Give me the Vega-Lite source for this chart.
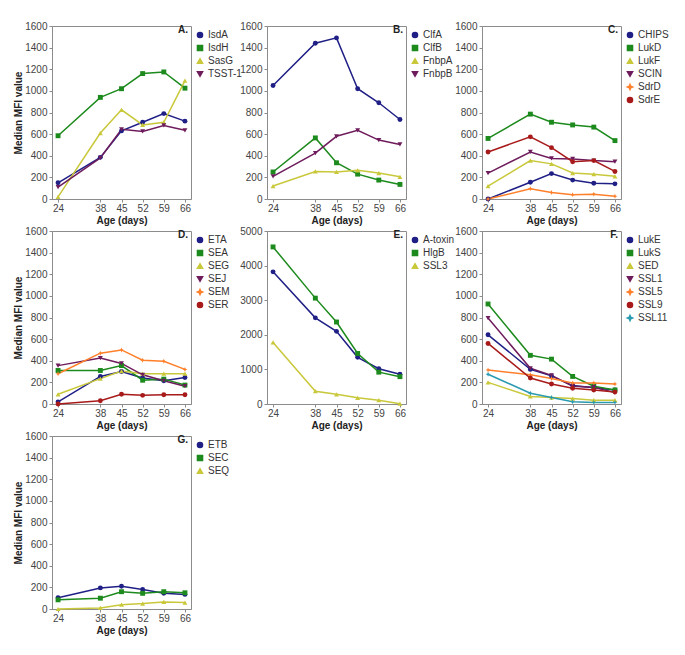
{
  "$schema": "https://vega.github.io/schema/vega-lite/v6.json",
  "padding": {"left": 13, "top": 20, "right": 0, "bottom": 0},
  "background": "white",
  "config": {
    "font": "Liberation Sans",
    "view": {"stroke": "#8c8c8c", "strokeWidth": 1},
    "axis": {"grid": false, "domainColor": "#8c8c8c", "tickColor": "#8c8c8c", "tickSize": 3, "labelFontSize": 10, "labelColor": "#444", "titleFontSize": 10, "titleFontWeight": "bold", "titleColor": "#222", "labelFont": "Liberation Sans", "titleFont": "Liberation Sans", "format": "d"},
    "axisX": {"titlePadding": 2, "labelPadding": 1},
    "axisY": {"titlePadding": 1, "labelPadding": 2},
    "legend": {"orient": "right", "offset": 0, "labelFontSize": 10, "labelColor": "#333", "symbolSize": 26, "rowPadding": 1, "title": null, "padding": 4, "labelFont": "Liberation Sans", "labelOffset": 3},
    "title": {"font": "Liberation Sans", "fontSize": 10, "fontWeight": "bold", "color": "#222", "anchor": "end", "frame": "group", "offset": -14, "dx": -3}
  },
  "datasets": {
    "A": [
      {"series":"IsdA","age":24,"mfi":150},{"series":"IsdA","age":38,"mfi":385},{"series":"IsdA","age":45,"mfi":630},{"series":"IsdA","age":52,"mfi":710},{"series":"IsdA","age":59,"mfi":790},{"series":"IsdA","age":66,"mfi":720},
      {"series":"IsdH","age":24,"mfi":585},{"series":"IsdH","age":38,"mfi":940},{"series":"IsdH","age":45,"mfi":1020},{"series":"IsdH","age":52,"mfi":1160},{"series":"IsdH","age":59,"mfi":1175},{"series":"IsdH","age":66,"mfi":1025},
      {"series":"SasG","age":24,"mfi":20},{"series":"SasG","age":38,"mfi":610},{"series":"SasG","age":45,"mfi":825},{"series":"SasG","age":52,"mfi":685},{"series":"SasG","age":59,"mfi":710},{"series":"SasG","age":66,"mfi":1095},
      {"series":"TSST-1","age":24,"mfi":110},{"series":"TSST-1","age":38,"mfi":380},{"series":"TSST-1","age":45,"mfi":645},{"series":"TSST-1","age":52,"mfi":625},{"series":"TSST-1","age":59,"mfi":680},{"series":"TSST-1","age":66,"mfi":635}
    ],
    "B": [
      {"series":"ClfA","age":24,"mfi":1050},{"series":"ClfA","age":38,"mfi":1440},{"series":"ClfA","age":45,"mfi":1490},{"series":"ClfA","age":52,"mfi":1020},{"series":"ClfA","age":59,"mfi":890},{"series":"ClfA","age":66,"mfi":735},
      {"series":"ClfB","age":24,"mfi":250},{"series":"ClfB","age":38,"mfi":565},{"series":"ClfB","age":45,"mfi":335},{"series":"ClfB","age":52,"mfi":230},{"series":"ClfB","age":59,"mfi":175},{"series":"ClfB","age":66,"mfi":135},
      {"series":"FnbpA","age":24,"mfi":120},{"series":"FnbpA","age":38,"mfi":255},{"series":"FnbpA","age":45,"mfi":250},{"series":"FnbpA","age":52,"mfi":265},{"series":"FnbpA","age":59,"mfi":240},{"series":"FnbpA","age":66,"mfi":205},
      {"series":"FnbpB","age":24,"mfi":210},{"series":"FnbpB","age":38,"mfi":425},{"series":"FnbpB","age":45,"mfi":580},{"series":"FnbpB","age":52,"mfi":635},{"series":"FnbpB","age":59,"mfi":545},{"series":"FnbpB","age":66,"mfi":505}
    ],
    "C": [
      {"series":"CHIPS","age":24,"mfi":0},{"series":"CHIPS","age":38,"mfi":155},{"series":"CHIPS","age":45,"mfi":235},{"series":"CHIPS","age":52,"mfi":175},{"series":"CHIPS","age":59,"mfi":145},{"series":"CHIPS","age":66,"mfi":140},
      {"series":"LukD","age":24,"mfi":560},{"series":"LukD","age":38,"mfi":785},{"series":"LukD","age":45,"mfi":710},{"series":"LukD","age":52,"mfi":685},{"series":"LukD","age":59,"mfi":665},{"series":"LukD","age":66,"mfi":540},
      {"series":"LukF","age":24,"mfi":120},{"series":"LukF","age":38,"mfi":355},{"series":"LukF","age":45,"mfi":325},{"series":"LukF","age":52,"mfi":240},{"series":"LukF","age":59,"mfi":230},{"series":"LukF","age":66,"mfi":210},
      {"series":"SCIN","age":24,"mfi":240},{"series":"SCIN","age":38,"mfi":435},{"series":"SCIN","age":45,"mfi":375},{"series":"SCIN","age":52,"mfi":370},{"series":"SCIN","age":59,"mfi":355},{"series":"SCIN","age":66,"mfi":345},
      {"series":"SdrD","age":24,"mfi":0},{"series":"SdrD","age":38,"mfi":95},{"series":"SdrD","age":45,"mfi":60},{"series":"SdrD","age":52,"mfi":40},{"series":"SdrD","age":59,"mfi":45},{"series":"SdrD","age":66,"mfi":25},
      {"series":"SdrE","age":24,"mfi":435},{"series":"SdrE","age":38,"mfi":575},{"series":"SdrE","age":45,"mfi":475},{"series":"SdrE","age":52,"mfi":345},{"series":"SdrE","age":59,"mfi":355},{"series":"SdrE","age":66,"mfi":255}
    ],
    "D": [
      {"series":"ETA","age":24,"mfi":20},{"series":"ETA","age":38,"mfi":255},{"series":"ETA","age":45,"mfi":300},{"series":"ETA","age":52,"mfi":240},{"series":"ETA","age":59,"mfi":215},{"series":"ETA","age":66,"mfi":245},
      {"series":"SEA","age":24,"mfi":310},{"series":"SEA","age":38,"mfi":310},{"series":"SEA","age":45,"mfi":355},{"series":"SEA","age":52,"mfi":220},{"series":"SEA","age":59,"mfi":230},{"series":"SEA","age":66,"mfi":175},
      {"series":"SEG","age":24,"mfi":90},{"series":"SEG","age":38,"mfi":235},{"series":"SEG","age":45,"mfi":305},{"series":"SEG","age":52,"mfi":280},{"series":"SEG","age":59,"mfi":280},{"series":"SEG","age":66,"mfi":280},
      {"series":"SEJ","age":24,"mfi":355},{"series":"SEJ","age":38,"mfi":425},{"series":"SEJ","age":45,"mfi":375},{"series":"SEJ","age":52,"mfi":270},{"series":"SEJ","age":59,"mfi":215},{"series":"SEJ","age":66,"mfi":165},
      {"series":"SEM","age":24,"mfi":280},{"series":"SEM","age":38,"mfi":470},{"series":"SEM","age":45,"mfi":500},{"series":"SEM","age":52,"mfi":405},{"series":"SEM","age":59,"mfi":395},{"series":"SEM","age":66,"mfi":320},
      {"series":"SER","age":24,"mfi":0},{"series":"SER","age":38,"mfi":30},{"series":"SER","age":45,"mfi":90},{"series":"SER","age":52,"mfi":80},{"series":"SER","age":59,"mfi":85},{"series":"SER","age":66,"mfi":85}
    ],
    "E": [
      {"series":"A-toxin","age":24,"mfi":3820},{"series":"A-toxin","age":38,"mfi":2490},{"series":"A-toxin","age":45,"mfi":2100},{"series":"A-toxin","age":52,"mfi":1350},{"series":"A-toxin","age":59,"mfi":1020},{"series":"A-toxin","age":66,"mfi":860},
      {"series":"HlgB","age":24,"mfi":4540},{"series":"HlgB","age":38,"mfi":3060},{"series":"HlgB","age":45,"mfi":2370},{"series":"HlgB","age":52,"mfi":1460},{"series":"HlgB","age":59,"mfi":920},{"series":"HlgB","age":66,"mfi":790},
      {"series":"SSL3","age":24,"mfi":1780},{"series":"SSL3","age":38,"mfi":370},{"series":"SSL3","age":45,"mfi":280},{"series":"SSL3","age":52,"mfi":180},{"series":"SSL3","age":59,"mfi":110},{"series":"SSL3","age":66,"mfi":10}
    ],
    "F": [
      {"series":"LukE","age":24,"mfi":640},{"series":"LukE","age":38,"mfi":320},{"series":"LukE","age":45,"mfi":260},{"series":"LukE","age":52,"mfi":170},{"series":"LukE","age":59,"mfi":150},{"series":"LukE","age":66,"mfi":130},
      {"series":"LukS","age":24,"mfi":925},{"series":"LukS","age":38,"mfi":450},{"series":"LukS","age":45,"mfi":415},{"series":"LukS","age":52,"mfi":255},{"series":"LukS","age":59,"mfi":165},{"series":"LukS","age":66,"mfi":130},
      {"series":"SED","age":24,"mfi":200},{"series":"SED","age":38,"mfi":70},{"series":"SED","age":45,"mfi":60},{"series":"SED","age":52,"mfi":50},{"series":"SED","age":59,"mfi":35},{"series":"SED","age":66,"mfi":35},
      {"series":"SSL1","age":24,"mfi":795},{"series":"SSL1","age":38,"mfi":330},{"series":"SSL1","age":45,"mfi":265},{"series":"SSL1","age":52,"mfi":165},{"series":"SSL1","age":59,"mfi":155},{"series":"SSL1","age":66,"mfi":105},
      {"series":"SSL5","age":24,"mfi":315},{"series":"SSL5","age":38,"mfi":270},{"series":"SSL5","age":45,"mfi":235},{"series":"SSL5","age":52,"mfi":195},{"series":"SSL5","age":59,"mfi":195},{"series":"SSL5","age":66,"mfi":185},
      {"series":"SSL9","age":24,"mfi":560},{"series":"SSL9","age":38,"mfi":240},{"series":"SSL9","age":45,"mfi":185},{"series":"SSL9","age":52,"mfi":145},{"series":"SSL9","age":59,"mfi":130},{"series":"SSL9","age":66,"mfi":110},
      {"series":"SSL11","age":24,"mfi":275},{"series":"SSL11","age":38,"mfi":100},{"series":"SSL11","age":45,"mfi":60},{"series":"SSL11","age":52,"mfi":20},{"series":"SSL11","age":59,"mfi":15},{"series":"SSL11","age":66,"mfi":15}
    ],
    "G": [
      {"series":"ETB","age":24,"mfi":105},{"series":"ETB","age":38,"mfi":195},{"series":"ETB","age":45,"mfi":210},{"series":"ETB","age":52,"mfi":180},{"series":"ETB","age":59,"mfi":145},{"series":"ETB","age":66,"mfi":135},
      {"series":"SEC","age":24,"mfi":85},{"series":"SEC","age":38,"mfi":100},{"series":"SEC","age":45,"mfi":160},{"series":"SEC","age":52,"mfi":145},{"series":"SEC","age":59,"mfi":160},{"series":"SEC","age":66,"mfi":150},
      {"series":"SEQ","age":24,"mfi":0},{"series":"SEQ","age":38,"mfi":10},{"series":"SEQ","age":45,"mfi":40},{"series":"SEQ","age":52,"mfi":50},{"series":"SEQ","age":59,"mfi":65},{"series":"SEQ","age":66,"mfi":60}
    ]
  },
  "columns": 3,
  "bounds": "flush",
  "spacing": {"row": 32, "column": 76},
  "resolve": {"scale": {"color": "independent", "shape": "independent", "x": "independent", "y": "independent"}, "legend": {"color": "independent", "shape": "independent"}},
  "concat": [
    {
      "data": {"name": "A"}, "title": "A.", "width": 139, "height": 173,
      "encoding": {
        "x": {"field": "age", "type": "quantitative", "scale": {"domain": [22, 68], "nice": false, "zero": false}, "axis": {"values": [24, 38, 45, 52, 59, 66], "title": "Age (days)"}},
        "y": {"field": "mfi", "type": "quantitative", "scale": {"domain": [0, 1600], "nice": false}, "axis": {"values": [0, 200, 400, 600, 800, 1000, 1200, 1400, 1600], "title": "Median MFI value"}},
        "color": {"field": "series", "type": "nominal", "scale": {"domain": ["IsdA", "IsdH", "SasG", "TSST-1"], "range": ["#1f1f86", "#1c8a1c", "#c9c83a", "#6e1c5c"]}}
      },
      "layer": [
        {"mark": {"type": "line", "strokeWidth": 1.5}},
        {"mark": {"type": "point", "filled": true, "size": 24, "opacity": 1}, "encoding": {"shape": {"field": "series", "type": "nominal", "scale": {"domain": ["IsdA", "IsdH", "SasG", "TSST-1"], "range": ["circle", "square", "triangle-up", "triangle-down"]}}}}
      ]
    },
    {
      "data": {"name": "B"}, "title": "B.", "width": 139, "height": 173,
      "encoding": {
        "x": {"field": "age", "type": "quantitative", "scale": {"domain": [22, 68], "nice": false, "zero": false}, "axis": {"values": [24, 38, 45, 52, 59, 66], "title": "Age (days)"}},
        "y": {"field": "mfi", "type": "quantitative", "scale": {"domain": [0, 1600], "nice": false}, "axis": {"values": [0, 200, 400, 600, 800, 1000, 1200, 1400, 1600], "title": null}},
        "color": {"field": "series", "type": "nominal", "scale": {"domain": ["ClfA", "ClfB", "FnbpA", "FnbpB"], "range": ["#1f1f86", "#1c8a1c", "#c9c83a", "#6e1c5c"]}}
      },
      "layer": [
        {"mark": {"type": "line", "strokeWidth": 1.5}},
        {"mark": {"type": "point", "filled": true, "size": 24, "opacity": 1}, "encoding": {"shape": {"field": "series", "type": "nominal", "scale": {"domain": ["ClfA", "ClfB", "FnbpA", "FnbpB"], "range": ["circle", "square", "triangle-up", "triangle-down"]}}}}
      ]
    },
    {
      "data": {"name": "C"}, "title": "C.", "width": 139, "height": 173,
      "encoding": {
        "x": {"field": "age", "type": "quantitative", "scale": {"domain": [22, 68], "nice": false, "zero": false}, "axis": {"values": [24, 38, 45, 52, 59, 66], "title": "Age (days)"}},
        "y": {"field": "mfi", "type": "quantitative", "scale": {"domain": [0, 1600], "nice": false}, "axis": {"values": [0, 200, 400, 600, 800, 1000, 1200, 1400, 1600], "title": null}},
        "color": {"field": "series", "type": "nominal", "scale": {"domain": ["CHIPS", "LukD", "LukF", "SCIN", "SdrD", "SdrE"], "range": ["#1f1f86", "#1c8a1c", "#c9c83a", "#6e1c5c", "#ff7f2a", "#a81a1a"]}}
      },
      "layer": [
        {"mark": {"type": "line", "strokeWidth": 1.5}},
        {"mark": {"type": "point", "filled": true, "size": 24, "opacity": 1}, "encoding": {"shape": {"field": "series", "type": "nominal", "scale": {"domain": ["CHIPS", "LukD", "LukF", "SCIN", "SdrD", "SdrE"], "range": ["circle", "square", "triangle-up", "triangle-down", "M0,-1L0.3,-0.3L1,0L0.3,0.3L0,1L-0.3,0.3L-1,0L-0.3,-0.3Z", "circle"]}}}}
      ]
    },
    {
      "data": {"name": "D"}, "title": "D.", "width": 139, "height": 173,
      "encoding": {
        "x": {"field": "age", "type": "quantitative", "scale": {"domain": [22, 68], "nice": false, "zero": false}, "axis": {"values": [24, 38, 45, 52, 59, 66], "title": "Age (days)"}},
        "y": {"field": "mfi", "type": "quantitative", "scale": {"domain": [0, 1600], "nice": false}, "axis": {"values": [0, 200, 400, 600, 800, 1000, 1200, 1400, 1600], "title": "Median MFI value"}},
        "color": {"field": "series", "type": "nominal", "scale": {"domain": ["ETA", "SEA", "SEG", "SEJ", "SEM", "SER"], "range": ["#1f1f86", "#1c8a1c", "#c9c83a", "#6e1c5c", "#ff7f2a", "#a81a1a"]}}
      },
      "layer": [
        {"mark": {"type": "line", "strokeWidth": 1.5}},
        {"mark": {"type": "point", "filled": true, "size": 24, "opacity": 1}, "encoding": {"shape": {"field": "series", "type": "nominal", "scale": {"domain": ["ETA", "SEA", "SEG", "SEJ", "SEM", "SER"], "range": ["circle", "square", "triangle-up", "triangle-down", "M0,-1L0.3,-0.3L1,0L0.3,0.3L0,1L-0.3,0.3L-1,0L-0.3,-0.3Z", "circle"]}}}}
      ]
    },
    {
      "data": {"name": "E"}, "title": "E.", "width": 139, "height": 173,
      "encoding": {
        "x": {"field": "age", "type": "quantitative", "scale": {"domain": [22, 68], "nice": false, "zero": false}, "axis": {"values": [24, 38, 45, 52, 59, 66], "title": "Age (days)"}},
        "y": {"field": "mfi", "type": "quantitative", "scale": {"domain": [0, 5000], "nice": false}, "axis": {"values": [0, 1000, 2000, 3000, 4000, 5000], "title": null}},
        "color": {"field": "series", "type": "nominal", "scale": {"domain": ["A-toxin", "HlgB", "SSL3"], "range": ["#1f1f86", "#1c8a1c", "#c9c83a"]}}
      },
      "layer": [
        {"mark": {"type": "line", "strokeWidth": 1.5}},
        {"mark": {"type": "point", "filled": true, "size": 24, "opacity": 1}, "encoding": {"shape": {"field": "series", "type": "nominal", "scale": {"domain": ["A-toxin", "HlgB", "SSL3"], "range": ["circle", "square", "triangle-up"]}}}}
      ]
    },
    {
      "data": {"name": "F"}, "title": "F.", "width": 139, "height": 173,
      "encoding": {
        "x": {"field": "age", "type": "quantitative", "scale": {"domain": [22, 68], "nice": false, "zero": false}, "axis": {"values": [24, 38, 45, 52, 59, 66], "title": "Age (days)"}},
        "y": {"field": "mfi", "type": "quantitative", "scale": {"domain": [0, 1600], "nice": false}, "axis": {"values": [0, 200, 400, 600, 800, 1000, 1200, 1400, 1600], "title": null}},
        "color": {"field": "series", "type": "nominal", "scale": {"domain": ["LukE", "LukS", "SED", "SSL1", "SSL5", "SSL9", "SSL11"], "range": ["#1f1f86", "#1c8a1c", "#c9c83a", "#6e1c5c", "#ff7f2a", "#a81a1a", "#2a9ab0"]}}
      },
      "layer": [
        {"mark": {"type": "line", "strokeWidth": 1.5}},
        {"mark": {"type": "point", "filled": true, "size": 24, "opacity": 1}, "encoding": {"shape": {"field": "series", "type": "nominal", "scale": {"domain": ["LukE", "LukS", "SED", "SSL1", "SSL5", "SSL9", "SSL11"], "range": ["circle", "square", "triangle-up", "triangle-down", "M0,-1L0.3,-0.3L1,0L0.3,0.3L0,1L-0.3,0.3L-1,0L-0.3,-0.3Z", "circle", "M0,-1L0.3,-0.3L1,0L0.3,0.3L0,1L-0.3,0.3L-1,0L-0.3,-0.3Z"]}}}}
      ]
    },
    {
      "data": {"name": "G"}, "title": "G.", "width": 139, "height": 173,
      "encoding": {
        "x": {"field": "age", "type": "quantitative", "scale": {"domain": [22, 68], "nice": false, "zero": false}, "axis": {"values": [24, 38, 45, 52, 59, 66], "title": "Age (days)"}},
        "y": {"field": "mfi", "type": "quantitative", "scale": {"domain": [0, 1600], "nice": false}, "axis": {"values": [0, 200, 400, 600, 800, 1000, 1200, 1400, 1600], "title": "Median MFI value"}},
        "color": {"field": "series", "type": "nominal", "scale": {"domain": ["ETB", "SEC", "SEQ"], "range": ["#1f1f86", "#1c8a1c", "#c9c83a"]}}
      },
      "layer": [
        {"mark": {"type": "line", "strokeWidth": 1.5}},
        {"mark": {"type": "point", "filled": true, "size": 24, "opacity": 1}, "encoding": {"shape": {"field": "series", "type": "nominal", "scale": {"domain": ["ETB", "SEC", "SEQ"], "range": ["circle", "square", "triangle-up"]}}}}
      ]
    }
  ]
}
